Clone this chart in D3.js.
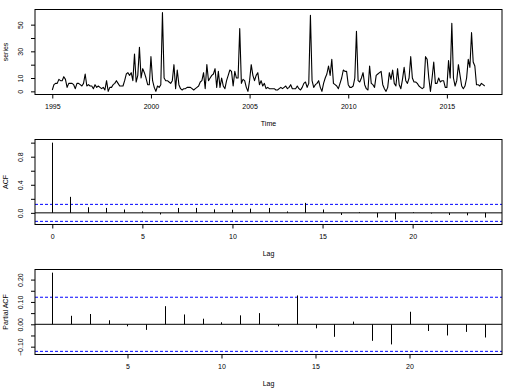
<!DOCTYPE html>
<html>
<head>
<meta charset="utf-8">
<title>series / ACF / PACF</title>
<script src="https://d3js.org/d3.v7.min.js"></script>
<style>
  body { margin: 0; background: #fff; }
  svg text { font-family: "Liberation Sans", Arial, sans-serif; font-size: 7px; fill: #000; }
  .axis line { stroke: #000; }
</style>
</head>
<body>
<div id="chart"></div>
<script>
"use strict"

// monthly series, Jan 1995 .. Dec 2016
var startYear = 1995, freq = 12;
var seriesValues = [
  1, 5, 6, 6, 9, 8, 8, 11, 9, 3, 6, 6,
  6, 5, 2, 6, 6, 5, 4, 6, 13, 4, 5, 4,
  4, 2, 5, 3, 4, 3, 2, 3, 1, 8, 0, 3,
  3, 5, 6, 8, 6, 4, 4, 4, 8, 13, 14, 12,
  14, 8, 28, 7, 12, 33, 10, 17, 14, 10, 5, 5,
  26, 8, 3, 0, 4, 3, 5, 59, 10, 8, 8, 7,
  6, 8, 20, 2, 16, 5, 2, 1, 2, 2, 3, 3,
  3, 2, 1, 2, 3, 4, 7, 8, 14, 2, 20, 8,
  10, 12, 13, 17, 3, 15, 3, 10, 4, 2, 8, 12,
  16, 15, 4, 15, 10, 10, 47, 6, 9, 8, 3, 0,
  8, 20, 12, 8, 12, 14, 5, 8, 4, 6, 2, 3,
  2, 2, 2, 2, 1, 1, 2, 3, 2, 3, 4, 2,
  3, 5, 2, 2, 2, 4, 2, 1, 3, 6, 7, 3,
  6, 57, 8, 3, 5, 6, 8, 3, 0, 6, 10, 13,
  19, 12, 24, 6, 5, 4, 2, 6, 10, 16, 15, 15,
  5, 3, 3, 4, 10, 45, 8, 7, 10, 14, 5, 2,
  1, 19, 6, 5, 3, 12, 13, 14, 15, 5, 2, 0,
  3, 14, 9, 16, 6, 4, 17, 5, 2, 9, 18, 8,
  6, 10, 26, 10, 7, 7, 6, 4, 3, 2, 3, 26,
  24, 10, 0, 10, 22, 6, 6, 10, 7, 8, 8, 3,
  3, 23, 10, 51, 10, 4, 8, 20, 12, 4, 2, 4,
  10, 24, 18, 44, 22, 19, 5, 5, 4, 6, 5, 4
];
var yearTicks = [1995, 2000, 2005, 2010, 2015];
var seriesYTicks = [0, 10, 20, 30, 40, 50];
var seriesYLabels = [0, 10, 30, 50];

// ACF, lags 0..24
var acfLags = d3.range(0, 25);
var acfValues = [1.0, 0.228, 0.08, 0.07, 0.048, 0.02, -0.023, 0.07, 0.07, 0.05, 0.045,
  0.06, 0.07, 0.02, 0.142, 0.048, -0.03, 0.01, -0.066, -0.095, 0.01, -0.01, -0.03, -0.035, -0.067];
var acfXTicks = [0, 5, 10, 15, 20];
var acfYTicks = [0, 0.2, 0.4, 0.6, 0.8, 1.0];
var acfYLabels = [0, 0.4, 0.8];

// PACF, lags 1..24
var pacfLags = d3.range(1, 25);
var pacfValues = [0.231, 0.038, 0.046, 0.018, -0.009, -0.025, 0.081, 0.044, 0.025, 0.009,
  0.04, 0.05, -0.009, 0.129, -0.018, -0.056, 0.012, -0.074, -0.09, 0.056, -0.03, -0.05, -0.034, -0.059];
var pacfXTicks = [5, 10, 15, 20];
var pacfYTicks = [-0.10, -0.05, 0, 0.05, 0.10, 0.15, 0.20];
var pacfYLabels = [-0.10, 0, 0.10, 0.20];

var confLimit = 0.121;

var W = 520, H = 390;
var left = 35, right = 502;
var svg = d3.select('#chart').append('svg')
  .attr('width', W).attr('height', H);

// R style padding: 4% each side
function pad(lo, hi) {
  var d = (hi - lo) * 0.04;
  return [lo - d, hi + d];
}

function panel(top, bottom, xDom, yDom, xTicks, yTicks, yLabels, yFmt, xTitle, yTitle) {
  var x = d3.scaleLinear().domain(xDom).range([left, right]);
  var y = d3.scaleLinear().domain(yDom).range([bottom, top]);
  var g = svg.append('g');

  var ax = g.append('g').attr('class', 'axis')
    .attr('transform', 'translate(0,' + bottom + ')')
    .call(d3.axisBottom(x).tickValues(xTicks).tickSize(4).tickPadding(6).tickFormat(d3.format('d')));
  ax.select('.domain').remove();

  var ay = g.append('g').attr('class', 'axis')
    .attr('transform', 'translate(' + left + ',0)')
    .call(d3.axisLeft(y).tickValues(yTicks).tickSize(4)
      .tickFormat(d => yLabels.some(v => Math.abs(v - d) < 1e-9) ? yFmt(d) : ''));
  ay.select('.domain').remove();
  ay.selectAll('text')
    .attr('x', 0).attr('dy', '0.35em')
    .attr('transform', 'translate(-14,0) rotate(-90)')
    .attr('text-anchor', 'middle');

  g.append('text').attr('x', (left + right) / 2).attr('y', bottom + 31)
    .attr('text-anchor', 'middle').text(xTitle);
  g.append('text')
    .attr('transform', 'translate(8,' + (top + bottom) / 2 + ') rotate(-90)')
    .attr('text-anchor', 'middle').text(yTitle);

  return {g: g, x: x, y: y, top: top, bottom: bottom};
}

function box(p) {
  p.g.append('rect')
    .attr('x', left).attr('y', p.top)
    .attr('width', right - left).attr('height', p.bottom - p.top)
    .attr('fill', 'none').attr('stroke', '#000').attr('stroke-width', 1);
}

/* panel 1: the series */
var times = seriesValues.map((v, i) => startYear + i / freq);
var p1 = panel(9.5, 94.5,
  pad(times[0], times[times.length - 1]),
  pad(d3.min(seriesValues), d3.max(seriesValues)),
  yearTicks, seriesYTicks, seriesYLabels, d3.format('d'), 'Time', 'series');

p1.g.append('path')
  .datum(seriesValues)
  .attr('fill', 'none').attr('stroke', '#000').attr('stroke-width', 1.1)
  .attr('stroke-linejoin', 'round')
  .attr('d', d3.line().x((d, i) => p1.x(times[i])).y(d => p1.y(d)));
box(p1);

/* spike panel for acf / pacf */
function spikes(p, lags, vals) {
  p.g.append('line')
    .attr('x1', left).attr('x2', right)
    .attr('y1', p.y(0)).attr('y2', p.y(0))
    .attr('stroke', '#000');
  [confLimit, -confLimit].forEach(c => {
    p.g.append('line')
      .attr('x1', left).attr('x2', right)
      .attr('y1', p.y(c)).attr('y2', p.y(c))
      .attr('stroke', '#0000ff').attr('stroke-dasharray', '3,2');
  });
  p.g.selectAll('line.spike')
    .data(vals)
    .enter().append('line')
      .attr('class', 'spike')
      .attr('x1', (d, i) => Math.round(p.x(lags[i])) + 0.5)
      .attr('x2', (d, i) => Math.round(p.x(lags[i])) + 0.5)
      .attr('y1', p.y(0))
      .attr('y2', d => p.y(d))
      .attr('stroke', '#000');
  box(p);
}

var acfLo = Math.min(-confLimit, d3.min(acfValues)), acfHi = Math.max(confLimit, d3.max(acfValues));
var p2 = panel(139.5, 224.5, pad(0, 24), pad(acfLo, acfHi),
  acfXTicks, acfYTicks, acfYLabels, d3.format('.1f'), 'Lag', 'ACF');
spikes(p2, acfLags, acfValues);

var pacfLo = Math.min(-confLimit, d3.min(pacfValues)), pacfHi = Math.max(confLimit, d3.max(pacfValues));
var p3 = panel(269.5, 354.5, pad(1, 24), pad(pacfLo, pacfHi),
  pacfXTicks, pacfYTicks, pacfYLabels, d3.format('.2f'), 'Lag', 'Partial ACF');
spikes(p3, pacfLags, pacfValues);
</script>
</body>
</html>
